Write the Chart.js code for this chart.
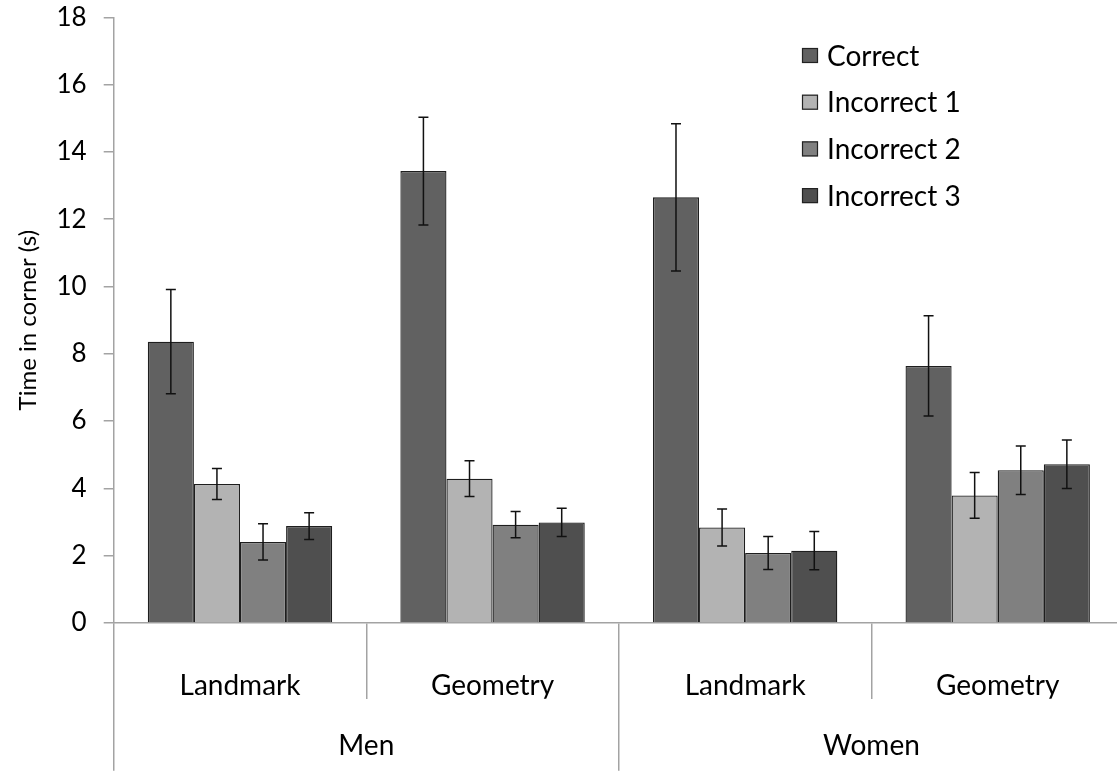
<!DOCTYPE html>
<html>
<head>
<meta charset="utf-8">
<script src="https://cdn.jsdelivr.net/npm/chart.js@4.4.0/dist/chart.umd.min.js"></script>
<style>
  html, body { margin: 0; padding: 0; overflow: hidden; background: #ffffff; }
  canvas { display: block; }
</style>
</head>
<body>
<canvas id="chart" width="1124" height="771"></canvas>
<script>
// Task conditions (inner axis) and participant groups (outer axis)
const conditions = ['Landmark', 'Geometry', 'Landmark', 'Geometry'];
const groups = ['Men', 'Women'];

// Series names
const seriesNames = ['Correct', 'Incorrect 1', 'Incorrect 2', 'Incorrect 3'];

// Mean time in corner (s)
const correct    = [8.36, 13.43, 12.65, 7.64];
const incorrect1 = [4.13, 4.29, 2.84, 3.79];
const incorrect2 = [2.41, 2.92, 2.08, 4.54];
const incorrect3 = [2.88, 2.99, 2.15, 4.72];

// Standard errors
const correctErr    = [1.55, 1.60, 2.19, 1.49];
const incorrect1Err = [0.46, 0.53, 0.55, 0.68];
const incorrect2Err = [0.54, 0.39, 0.49, 0.72];
const incorrect3Err = [0.40, 0.42, 0.57, 0.72];

// Y axis range
const yMin = 0;
const yMax = 18;
const yStep = 2;

const fills = ['#616161', '#b3b3b3', '#808080', '#4f4f4f'];
const FONT = 'Lato';
const AXIS_GREY = '#a3a3a3';

const seriesValues = [correct, incorrect1, incorrect2, incorrect3];
const seriesErrors = [correctErr, incorrect1Err, incorrect2Err, incorrect3Err];

// Error bars: whiskers at value ± SE, drawn on the bar elements' positions
const errorBarPlugin = {
  id: 'errorBars',
  afterDatasetsDraw(chart) {
    const ctx = chart.ctx;
    const yScale = chart.scales.y;
    ctx.save();
    ctx.strokeStyle = '#111111';
    ctx.lineWidth = 1.5;
    chart.data.datasets.forEach((ds, i) => {
      const meta = chart.getDatasetMeta(i);
      meta.data.forEach((bar, j) => {
        const v = ds.data[j];
        const e = ds.errors[j];
        const yTop = yScale.getPixelForValue(v + e);
        const yBot = yScale.getPixelForValue(v - e);
        const x = bar.x;
        const cap = 5;
        ctx.beginPath();
        ctx.moveTo(x, yTop); ctx.lineTo(x, yBot);
        ctx.moveTo(x - cap, yTop); ctx.lineTo(x + cap, yTop);
        ctx.moveTo(x - cap, yBot); ctx.lineTo(x + cap, yBot);
        ctx.stroke();
      });
    });
    ctx.restore();
  }
};

// Legend stacked in the upper right of the plot
const legendPlugin = {
  id: 'cornerLegend',
  afterDraw(chart) {
    const ctx = chart.ctx;
    const x0 = 802;
    const y0 = 55.5;
    const rowGap = 46.7;
    ctx.save();
    ctx.font = '28px ' + FONT;
    ctx.textBaseline = 'middle';
    ctx.textAlign = 'left';
    chart.data.datasets.forEach((ds, i) => {
      const cy = y0 + i * rowGap;
      ctx.fillStyle = ds.backgroundColor;
      ctx.fillRect(x0, cy - 7.5, 16, 15);
      ctx.strokeStyle = '#222222';
      ctx.lineWidth = 1.2;
      ctx.strokeRect(x0 + 0.5, cy - 7, 15, 14);
      ctx.fillStyle = '#000000';
      ctx.fillText(ds.label, x0 + 25, cy + 1);
    });
    ctx.restore();
  }
};

const datasets = seriesNames.map((name, i) => ({
  label: name,
  data: seriesValues[i],
  errors: seriesErrors[i],
  backgroundColor: fills[i],
  borderColor: '#1e1e1e',
  borderWidth: 1.3,
  categoryPercentage: 0.73,
  barPercentage: 1.0
}));

new Chart(document.getElementById('chart'), {
  type: 'bar',
  data: { labels: conditions, datasets },
  plugins: [errorBarPlugin, legendPlugin],
  options: {
    responsive: false,
    animation: false,
    layout: { padding: { top: 17.3, left: 0, right: 0, bottom: 0 } },
    plugins: {
      legend: { display: false },
      tooltip: { enabled: false }
    },
    scales: {
      y: {
        min: yMin,
        max: yMax,
        ticks: {
          stepSize: yStep,
          color: '#000000',
          padding: 17,
          font: { family: FONT, size: 26 }
        },
        grid: {
          drawOnChartArea: false,
          drawTicks: true,
          tickLength: 10,
          color: AXIS_GREY,
          lineWidth: 1.5
        },
        border: { display: true, color: AXIS_GREY, width: 1.5 },
        title: {
          display: true,
          text: 'Time in corner (s)',
          color: '#000000',
          font: { family: FONT, size: 24 },
          padding: { top: 14, bottom: 0 }
        },
        afterFit(scale) {
          scale.width = 113.7;
          scale.paddingTop = 0;
          scale.paddingBottom = 0;
        }
      },
      x: {
        type: 'category',
        offset: true,
        ticks: {
          color: '#000000',
          padding: -30,
          font: { family: FONT, size: 28 },
          maxRotation: 0
        },
        grid: {
          offset: true,
          drawOnChartArea: false,
          drawTicks: true,
          tickLength: 76,
          color: AXIS_GREY,
          lineWidth: 1.5
        },
        border: { display: true, color: AXIS_GREY, width: 1.5 },
        afterFit(scale) { scale.height = 75.7; }
      },
      x2: {
        type: 'category',
        labels: groups,
        position: 'bottom',
        offset: true,
        ticks: {
          color: '#000000',
          padding: -42,
          font: { family: FONT, size: 28 },
          maxRotation: 0
        },
        grid: {
          offset: true,
          drawOnChartArea: false,
          drawTicks: true,
          tickLength: 72,
          color: AXIS_GREY,
          lineWidth: 1.5
        },
        border: { display: false },
        afterFit(scale) { scale.height = 72.3; }
      }
    }
  }
});
</script>
</body>
</html>
